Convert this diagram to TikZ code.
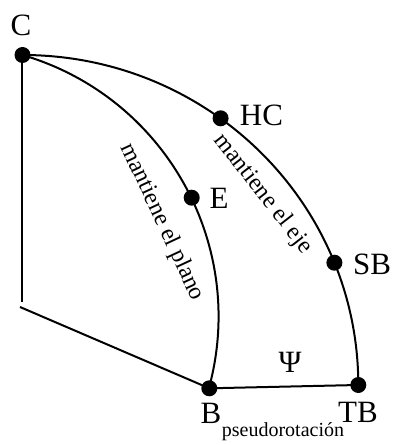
\documentclass[tikz,border=0pt]{standalone}
\usepackage{fontspec}
\setmainfont{Liberation Serif}
\begin{document}
\begin{tikzpicture}[x=1pt,y=1pt,
  dot/.style={circle,fill=black,inner sep=0pt,minimum size=16pt},
  lbl/.style={inner sep=0pt,font=\fontsize{31}{33}\selectfont},
  side/.style={inner sep=0pt,font=\fontsize{24}{26}\selectfont},
  small/.style={inner sep=0pt,font=\fontsize{20}{22}\selectfont},
  edge/.style={line width=2pt}]
\useasboundingbox (0,0) rectangle (392,445);
% points
\node[dot] (C) at (22.5,390) {};
\node[dot] (HC) at (220.6,326.7) {};
\node[dot] (E) at (191.7,247.3) {};
\node[dot] (SB) at (334.4,182.3) {};
\node[dot] (B) at (209.3,56.7) {};
\node[dot] (TB) at (358.3,60) {};
\coordinate (V) at (21.5,143);
\coordinate (S) at (20,138);
% edges
\draw[edge] (C.center) ++(-1,0) -- (V);
\draw[edge] (S) -- (B.center);
\draw[edge] (C.center) arc[start angle=73.7,end angle=-15.3,radius=272.5];
\draw[edge] (C.center) arc[start angle=90,end angle=0,x radius=335.8,y radius=330];
\draw[edge] (B.center) -- (TB.center);
% labels
\node[lbl] (Cl) at (21,420) {C};
\node[lbl] (HCl) at (261.5,330) {HC};
\node[lbl] (El) at (219,247) {E};
\node[lbl] (SBl) at (372,181) {SB};
\node[lbl] (Bl) at (211,32) {B};
\node[lbl] (TBl) at (358,33) {TB};
\node[lbl] (psi) at (290,83) {Ψ};
\node[small] (pr) at (283,13) {pseudorotación};
\node[side,rotate=-52] (eje) at (263,251) {mantiene el eje};
\node[side,rotate=-65] (plano) at (162,223) {mantiene el plano};
\end{tikzpicture}
\end{document}
